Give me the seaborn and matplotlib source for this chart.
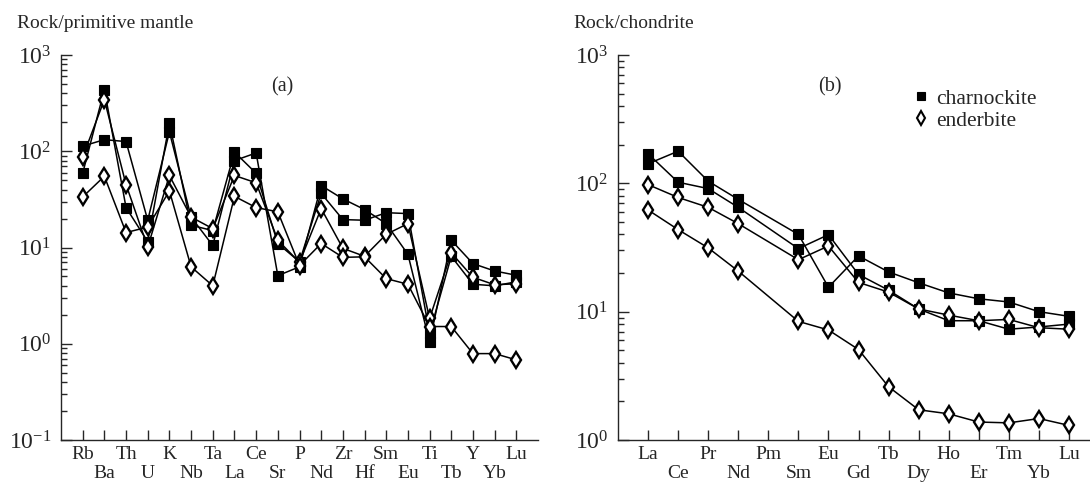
import matplotlib
matplotlib.use("Agg")
import matplotlib.pyplot as plt
import matplotlib.ticker as mticker
from matplotlib.lines import Line2D
import seaborn as sns

# panel (a): spider diagram, rock / primitive mantle
elements_a = ["Rb", "Ba", "Th", "U", "K", "Nb", "Ta", "La", "Ce", "Sr", "P",
              "Nd", "Zr", "Hf", "Sm", "Eu", "Ti", "Tb", "Y", "Yb", "Lu"]
charn_a1 = [113, 132, 126, 19.2, 159, 20.7, 10.5, 80, 96, 5.1, 6.3,
            44, 32, 24.8, 17.7, 8.5, 1.04, 11.9, 6.8, 5.7, 5.15]
charn_a2 = [59, 437, 26, 11.5, 196, 17, 15, 98, 59, 11, 7.1,
            36.5, 19.5, 19.2, 23, 22.5, 1.28, 8.1, 4.15, 4.0, 4.4]
ender_a1 = [87, 344, 45, 10.1, 56, 20.7, 15.7, 56, 47, 11.9, 7.0,
            25.4, 9.8, 8.1, 13.7, 17.7, 1.83, 8.8, 4.9, 4.1, 4.2]
ender_a2 = [33.5, 55, 14.3, 16.3, 38.7, 6.3, 4.0, 34, 26, 23.5, 6.5,
            11, 7.9, 8.0, 4.75, 4.15, 1.51, 1.51, 0.79, 0.79, 0.68]

# panel (b): REE, rock / chondrite (Pm has no data)
elements_b = ["La", "Ce", "Pr", "Nd", "Pm", "Sm", "Eu", "Gd", "Tb", "Dy",
              "Ho", "Er", "Tm", "Yb", "Lu"]
ree_b = ["La", "Ce", "Pr", "Nd", "Sm", "Eu", "Gd", "Tb", "Dy", "Ho", "Er",
         "Tm", "Yb", "Lu"]
charn_b1 = [142, 178, 104, 75, 40, 15.5, 27.2, 20.4, 16.8, 14, 12.6, 11.9, 10, 9.2]
charn_b2 = [170, 102, 91, 65, 31, 39.8, 19.5, 14.7, 10.5, 8.5, 8.5, 7.3, 7.6, 8.0]
ender_b1 = [97.7, 77.6, 65, 48.5, 25.4, 32.5, 16.9, 14.2, 10.5, 9.4, 8.5, 8.7, 7.5, 7.3]
ender_b2 = [62, 43.6, 31.4, 20.7, 8.4, 7.2, 5.07, 2.6, 1.72, 1.6, 1.38, 1.36, 1.47, 1.3]

sns.set_style("ticks")
plt.rcParams["font.family"] = ["Liberation Serif", "DejaVu Serif"]
plt.rcParams["mathtext.fontset"] = "stix"
plt.rcParams["font.size"] = 14

sq = dict(marker="s", markersize=7.5, markerfacecolor="black",
          markeredgecolor="black", markeredgewidth=0.8)
dm = dict(marker="d", markersize=8.5, markerfacecolor="white",
          markeredgecolor="black", markeredgewidth=1.7)

fig = plt.figure(figsize=(10.9, 4.9), dpi=100)
ax_a = fig.add_axes([61 / 1090, 50 / 490, 477 / 1090, 385 / 490])
ax_b = fig.add_axes([618 / 1090, 50 / 490, 472 / 1090, 385 / 490])

xa = list(range(1, len(elements_a) + 1))
for vals, style in [(charn_a1, sq), (charn_a2, sq), (ender_a1, dm), (ender_a2, dm)]:
    sns.lineplot(x=xa, y=vals, ax=ax_a, color="black", linewidth=1.1, **style)

xb = [elements_b.index(e) + 1 for e in ree_b]
for vals, style in [(charn_b1, sq), (charn_b2, sq), (ender_b1, dm), (ender_b2, dm)]:
    sns.lineplot(x=xb, y=vals, ax=ax_b, color="black", linewidth=1.1, **style)


def style_axis(ax, names, xmax, ymin, ymax):
    ax.set_yscale("log")
    ax.set_ylim(ymin, ymax)
    ax.set_xlim(0, xmax)
    pos = list(range(1, len(names) + 1))
    ax.set_xticks(pos[0::2], names[0::2])
    ax.set_xticks(pos[1::2], names[1::2], minor=True)
    ax.yaxis.set_major_locator(mticker.LogLocator(base=10, numticks=10))
    ax.yaxis.set_minor_locator(mticker.LogLocator(base=10, subs=range(2, 10), numticks=20))
    ax.yaxis.set_minor_formatter(mticker.NullFormatter())
    ax.tick_params(axis="x", which="major", direction="in", length=7, width=1.0, pad=4, labelsize=14)
    ax.tick_params(axis="x", which="minor", direction="in", length=7, width=1.0, pad=18, labelsize=14)
    ax.tick_params(axis="y", which="major", direction="in", length=8, width=1.0, pad=7, labelsize=17)
    ax.tick_params(axis="y", which="minor", direction="in", length=4.5, width=1.0)
    for s in ["top", "right"]:
        ax.spines[s].set_visible(False)
    for s in ["left", "bottom"]:
        ax.spines[s].set_linewidth(1.0)
    ax.set_xlabel("")
    ax.set_ylabel("")


style_axis(ax_a, elements_a, 22, 0.1, 1000)
style_axis(ax_b, elements_b, 15.7, 1, 1000)

ax_a.text(0.463, 0.917, "(a)", transform=ax_a.transAxes, ha="center", va="center", fontsize=14.5)
ax_b.text(0.449, 0.917, "(b)", transform=ax_b.transAxes, ha="center", va="center", fontsize=14.5)

fig.text(17 / 1090, 1 - 23 / 490, "Rock/primitive mantle", ha="left", va="center", fontsize=14)
fig.text(573 / 1090, 1 - 23 / 490, "Rock/chondrite", ha="left", va="center", fontsize=14)

handles = [Line2D([], [], linestyle="none", **dict(sq, markersize=6)),
           Line2D([], [], linestyle="none", **dict(dm, markersize=7.5, markeredgewidth=1.5))]
ax_b.legend(handles, ["charnockite", "enderbite"], loc="upper left",
            bbox_to_anchor=(0.6, 0.935), frameon=False, handletextpad=0.2,
            labelspacing=0.1, handlelength=1.0, borderaxespad=0, fontsize=15.5)

fig.savefig("out.png", dpi=100)
